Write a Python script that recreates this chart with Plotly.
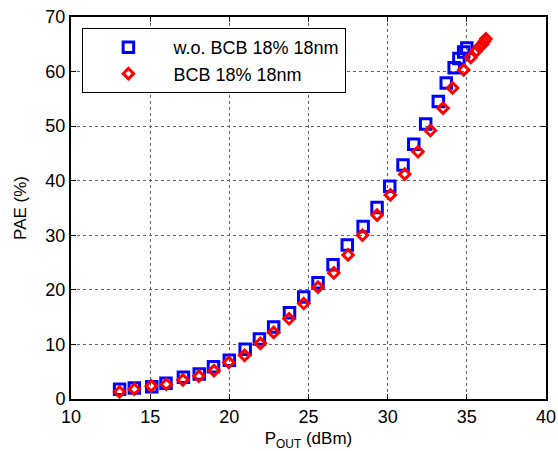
import plotly.graph_objects as go

# Data
pout_wo = [13.07, 14.0, 15.1, 16.0, 17.1, 18.1, 19.0, 20.0, 21.0, 21.9, 22.8, 23.8, 24.7, 25.6,
           26.55, 27.45, 28.45, 29.33, 30.13, 30.97, 31.65, 32.4, 33.2, 33.7, 34.2, 34.5, 34.8, 35.0]
pae_wo = [1.8, 2.0, 2.25, 2.9, 4.0, 4.6, 5.9, 7.1, 9.1, 11.0, 13.2, 15.8, 18.7, 21.3,
          24.6, 28.2, 31.6, 35.1, 39.0, 42.9, 46.7, 50.4, 54.5, 57.9, 60.7, 62.4, 63.6, 64.3]

pout_bcb = [13.07, 14.0, 15.07, 16.02, 17.07, 18.08, 19.03, 19.97, 20.96, 21.96, 22.8, 23.77, 24.7,
            25.6, 26.6, 27.5, 28.41, 29.33, 30.17, 31.08, 31.92, 32.7, 33.5, 34.1, 34.8, 35.25,
            35.6, 35.8, 36.0, 36.1, 36.2]
pae_bcb = [1.3, 1.8, 2.4, 2.7, 3.5, 4.2, 5.2, 6.7, 8.0, 10.2, 12.2, 14.7, 17.5,
           20.5, 23.1, 26.4, 30.0, 33.7, 37.4, 41.2, 45.3, 49.2, 53.3, 57.0, 60.3, 62.6,
           63.8, 64.5, 65.0, 65.5, 66.0]

x_ticks = [10, 15, 20, 25, 30, 35, 40]
y_ticks = [0, 10, 20, 30, 40, 50, 60, 70]

font_family = "Liberation Sans, Arial, sans-serif"

fig = go.Figure()
fig.add_trace(go.Scatter(
    x=pout_wo, y=pae_wo, mode="markers", name="w.o. BCB 18% 18nm",
    marker=dict(symbol="square-open", size=10.5, color="#0000ff", line=dict(width=3, color="#0000ff")),
))
fig.add_trace(go.Scatter(
    x=pout_bcb, y=pae_bcb, mode="markers", name="BCB 18% 18nm",
    marker=dict(symbol="diamond-open", size=8, color="#ff0000", line=dict(width=3, color="#ff0000")),
))

axis_common = dict(
    showgrid=True, gridcolor="#666666", griddash="dot", gridwidth=1,
    showline=True, linecolor="black", linewidth=2, mirror="ticks",
    ticks="inside", ticklen=5, tickcolor="black", tickwidth=1,
    zeroline=False, automargin=False,
    tickfont=dict(size=18, color="black", family=font_family),
)

fig.update_xaxes(range=[10, 40], tickvals=x_ticks,
                 title=dict(text="P<sub>OUT</sub> (dBm)", font=dict(size=17, color="black", family=font_family), standoff=8),
                 **axis_common)
fig.update_yaxes(range=[0, 70], tickvals=y_ticks,
                 title=dict(text="PAE (%)", font=dict(size=17, color="black", family=font_family), standoff=14),
                 **axis_common)

fig.update_layout(
    width=558, height=451,
    margin=dict(l=71, r=12, t=17, b=52),
    plot_bgcolor="white", paper_bgcolor="white",
    font=dict(family=font_family, color="black"),
    legend=dict(x=0.024, y=0.971, xanchor="left", yanchor="top",
                bordercolor="black", borderwidth=1, bgcolor="white",
                font=dict(size=18, color="black", family=font_family),
                itemwidth=80),
)

fig.write_html("out.html")
